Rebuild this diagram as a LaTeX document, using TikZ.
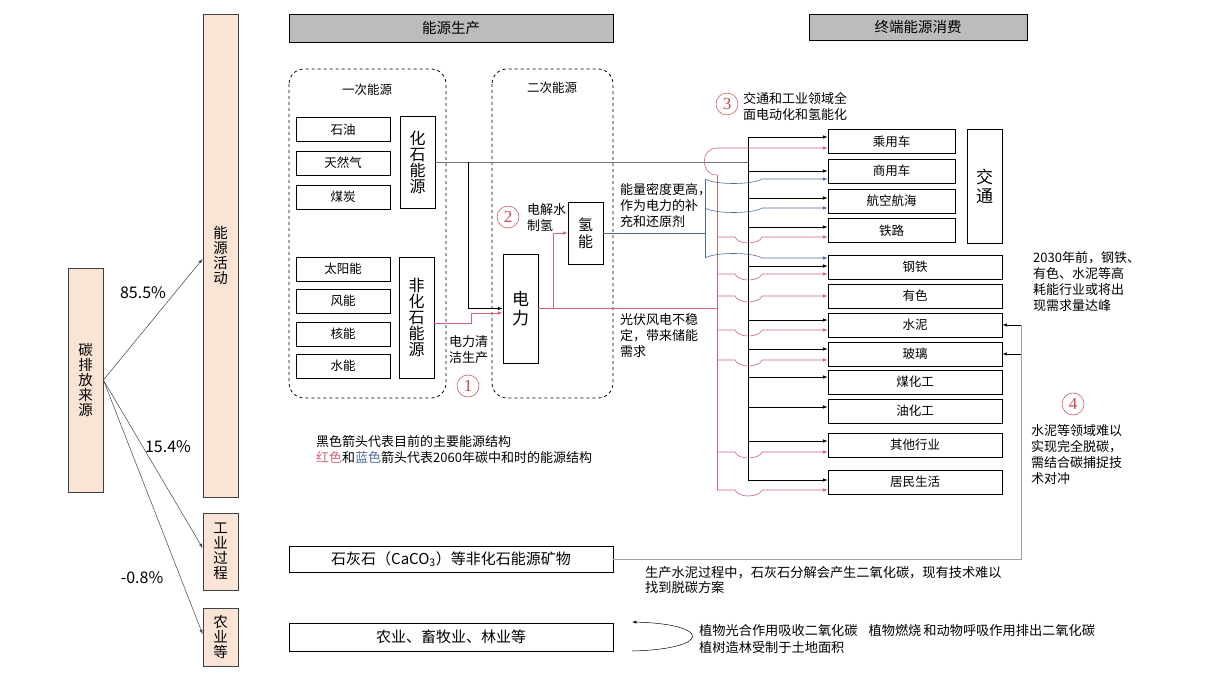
\documentclass[tikz,border=0pt]{standalone}
\usepackage{fontspec}
\setmainfont{Noto Sans CJK SC}
\newfontfamily\numfont{Liberation Serif}
\definecolor{peach}{RGB}{250,228,213}
\definecolor{hdrgray}{RGB}{188,188,188}
\definecolor{redln}{RGB}{210,100,118}
\definecolor{blueln}{RGB}{78,108,150}
\definecolor{fosln}{RGB}{105,115,130}
\definecolor{circred}{RGB}{205,70,80}
\definecolor{limeln}{RGB}{160,160,160}
\begin{document}
\begin{tikzpicture}[x=1pt, y=-1pt, >=latex,
  font=\fontsize{12.5}{15}\selectfont,
  box/.style={draw, line width=0.9pt, minimum height=24pt, inner sep=0pt},
  vbox/.style={draw, line width=0.9pt, minimum width=35pt, align=center, inner sep=0pt},
  pbox/.style={draw=black!75, line width=0.8pt, fill=peach, minimum width=35pt, align=center, inner sep=0pt, font=\fontsize{14.5}{15}\selectfont},
  hdr/.style={draw, line width=0.8pt, fill=hdrgray, inner sep=0pt, font=\fontsize{14.5}{15}\selectfont},
  grp/.style={draw, dashed, line width=0.8pt, rounded corners=15pt},
  note/.style={anchor=west, align=left, inner sep=0pt, font=\fontsize{13}{16}\selectfont},
  cnum/.style={circle, draw=circred, text=circred, line width=0.5pt, minimum size=22pt, inner sep=0pt, font=\numfont\fontsize{17}{17}\selectfont},
  blk/.style={->, line width=0.6pt},
  rd/.style={->, redln, line width=0.6pt},
  bl/.style={->, blueln, line width=0.6pt}]
  \useasboundingbox (0,0) rectangle (1214,692);

  % carbon sources
  \node[pbox, minimum height=224pt] (src) at (85.5,380) {碳\\排\\放\\来\\源};
  \node[pbox, minimum height=483pt] (act) at (220.5,255.5) {能\\源\\活\\动};
  \node[pbox, minimum height=77pt] (ind) at (220.5,551.5) {工\\业\\过\\程};
  \node[pbox, minimum height=58pt] (agr) at (220.5,637) {农\\业\\等};
  \draw[->, black!75, line width=0.5pt] (src.east) -- ([yshift=-3.5pt]act.west);
  \draw[->, black!75, line width=0.5pt] (src.east) -- ([yshift=3.5pt]ind.west);
  \draw[->, black!75, line width=0.5pt] (src.east) -- ([yshift=3pt]agr.west);
  \node[font=\fontsize{16}{16}\selectfont] (pct1) at (143,293) {85.5\%};
  \node[font=\fontsize{16}{16}\selectfont] (pct2) at (168,447) {15.4\%};
  \node[font=\fontsize{16}{16}\selectfont] (pct3) at (142,578) {-0.8\%};

  % headers
  \node[hdr, minimum width=324pt, minimum height=28pt] (prod) at (451,28) {能源生产};
  \node[hdr, minimum width=218pt, minimum height=26pt] (cons) at (918,27) {终端能源消费};

  % production
  \draw[grp] (289,69) rectangle (446,398);
  \node (pri) at (367,90) {一次能源};
  \draw[grp] (492,69) rectangle (613,398);
  \node (sec) at (552,88) {二次能源};
  \foreach \lbl/\n/\y in {石油/oil/129.5, 天然气/gas/163, 煤炭/coal/197, 太阳能/sun/269, 风能/wind/301, 核能/nuc/334, 水能/hydro/366}
    \node[box, minimum width=94pt] (\n) at (343,\y) {\lbl};
  \node[vbox, minimum height=92pt, font=\fontsize{16}{16}\selectfont] (fos) at (417.5,162) {化\\石\\能\\源};
  \node[vbox, minimum height=121pt, font=\fontsize{16}{16}\selectfont] (nfos) at (416.5,317.5) {非\\化\\石\\能\\源};
  \node[vbox, minimum height=109pt, font=\fontsize{17}{19}\selectfont] (elec) at (520.5,308.5) {电\\力};
  \node[vbox, minimum height=62pt, font=\fontsize{15}{17}\selectfont] (hyd) at (585.5,233) {氢\\能};

  % consumption
  \foreach \lbl/\n/\y in {乘用车/car/141.5, 商用车/com/171, 航空航海/air/201, 铁路/rail/230.5}
    \node[box, minimum width=127pt] (\n) at (891.5,\y) {\lbl};
  \foreach \lbl/\n/\y in {钢铁/steel/267, 有色/nonf/296, 水泥/cem/325, 玻璃/glass/354, 煤化工/coalc/382, 油化工/oilc/411, 其他行业/other/445, 居民生活/home/482}
    \node[box, minimum width=174pt] (\n) at (915,\y) {\lbl};
  \node[vbox, minimum height=114pt, font=\fontsize{17}{19}\selectfont] (trans) at (984.5,186) {交\\通};

  % buses
  \coordinate (bkT) at (748,137);
  \coordinate (bkB) at (748,480);
  \coordinate (rbT) at (717,175);
  \coordinate (rbB) at (717,490);
  \coordinate (bbT) at (705,179);
  \coordinate (bbB) at (705,258);
  \coordinate (dl) at (735,0);
  \coordinate (dr) at (762,0);
  \coordinate (jn) at ([xshift=33pt]fos.east);
  \coordinate (ej) at ([xshift=15pt]elec.east);

  % feeds
  \draw[fosln, line width=0.6pt] (fos.east) -- (fos.east -| bkT);
  \draw[blk] (jn) |- (elec.west);
  \draw[rd] ([yshift=-5.5pt]nfos.east) -- ++(37,0) |- ([yshift=-4.5pt]elec.west);
  \draw[rd] (ej) |- (hyd.west);
  \draw[redln, line width=0.6pt] (elec.east) -- (elec.east -| rbT);
  \draw[blueln, line width=0.6pt] (hyd.east) -- (hyd.east -| bbT);
  \draw[line width=0.6pt] (bkT) -- (bkB);
  \draw[redln, line width=0.6pt] (rbT) -- (rbB);
  \draw[blueln, line width=0.6pt] (bbT) -- (bbB);

  % branches
  \foreach \n/\s in {car/4.5, com/0, air/3, rail/3.5, steel/1, cem/5, glass/5, coalc/5, oilc/4, other/4, home/2} {
    \coordinate (t) at ([yshift=\s pt]\n.west);
    \draw[blk] (t -| bkT) -- (t);
  }
  \coordinate (t) at ([yshift=-6.5pt]car.west);
  \draw[rd] (rbT) .. controls +(-17,0) and +(-17,0) .. (t -| rbT) -- (t);
  \foreach \n/\s in {rail/-6.5, steel/-7, nonf/0, cem/-5, glass/-6, other/-7, home/-8} {
    \coordinate (t) at ([yshift=\s pt]\n.west);
    \draw[rd] (t -| rbT) -- (t -| dl) .. controls +(3,8) and +(-3,8) .. (t -| dr) -- (t);
  }
  \foreach \n/\s/\d in {com/-8/6, air/-7/6, steel/9/-6} {
    \coordinate (t) at ([yshift=\s pt]\n.west);
    \draw[bl] (t -| bbT) .. controls +(10,\d) and +(-10,\d) .. (t -| dr) -- (t);
  }

  % limestone and agriculture
  \node[box, minimum width=324pt, minimum height=26pt, font=\fontsize{15}{15}\selectfont] (lime) at (451,559) {石灰石（CaCO\textsubscript{3}）等非化石能源矿物};
  \node[box, minimum width=324pt, minimum height=28pt, font=\fontsize{15}{15}\selectfont] (agri) at (451,637) {农业、畜牧业、林业等};
  \coordinate (lc) at (1021,0);
  \draw[limeln, line width=0.8pt] (lime.east) -- (lime.east -| lc) -- (cem.east -| lc);
  \draw[->, line width=0.5pt] (cem.east -| lc) -- (cem.east);
  \draw[->, line width=0.5pt] (glass.east -| lc) -- (glass.east);
  \coordinate (la) at (632,651);
  \coordinate (lb) at (632,622);
  \draw[->, line width=0.5pt] (la) .. controls (712,649) and (712,624) .. (lb);

  % notes
  \node[cnum] (c1) at (468,386) {1};
  \node[cnum] (c2) at (508,217) {2};
  \node[cnum] (c3) at (727,104) {3};
  \node[cnum] (c4) at (1073,404) {4};
  \node[note] (n1) at (449,350) {电力清\\洁生产};
  \node[note] (n2) at (527,218) {电解水\\制氢};
  \node[note] (n3) at (620,206) {能量密度更高，\\作为电力的补\\充和还原剂};
  \node[note] (n4) at (620,336) {光伏风电不稳\\定，带来储能\\需求};
  \node[note] (n5) at (743,106) {交通和工业领域全\\面电动化和氢能化};
  \node[note] (n6) at (1033,282) {2030年前，钢铁、\\有色、水泥等高\\耗能行业或将出\\现需求量达峰};
  \node[note] (n7) at (1031,455) {水泥等领域难以\\实现完全脱碳，\\需结合碳捕捉技\\术对冲};
  \node[note] (n8) at (316,450) {黑色箭头代表目前的主要能源结构\\{\color{redln}红色}和{\color{blueln}蓝色}箭头代表2060年碳中和时的能源结构};
  \node[note, font=\fontsize{13.2}{15}\selectfont] (n9) at (645,580) {生产水泥过程中，石灰石分解会产生二氧化碳，现有技术难以\\找到脱碳方案};
  \node[note, font=\fontsize{13.2}{17}\selectfont] (n10) at (699,638.5) {植物光合作用吸收二氧化碳\hspace{11pt}植物燃烧\hspace{2pt}和动物呼吸作用排出二氧化碳\\植树造林受制于土地面积};
\end{tikzpicture}
\end{document}
